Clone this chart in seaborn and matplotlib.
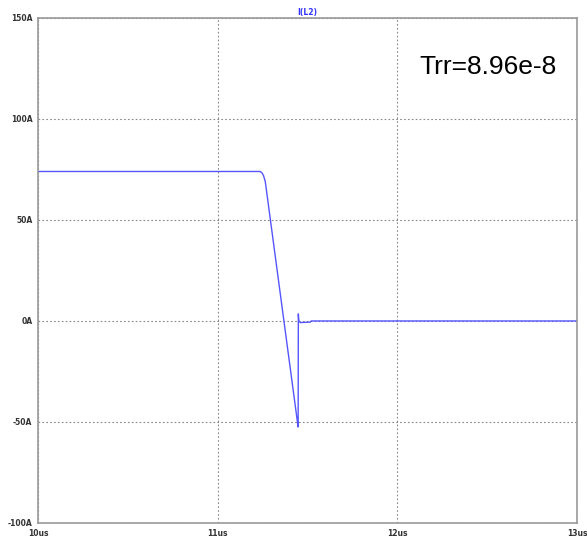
import numpy as np
import pandas as pd
import matplotlib
matplotlib.use("Agg")
import matplotlib.pyplot as plt
import seaborn as sns

# waveform of I(L2), time in us, current in A
time_us = [10.0, 11.235, 11.245, 11.255, 11.265, 11.444, 11.447, 11.448, 11.449,
           11.452, 11.46, 11.5, 11.515, 11.52, 13.0]
current_a = [74.0, 74.0, 73.5, 72.0, 69.0, -50.0, -52.5, -50.0, 3.5,
             0.0, -0.8, -0.6, -0.6, 0.0, 0.0]

xticks = [10, 11, 12, 13]
xlabels = ["10us", "11us", "12us", "13us"]
yticks = [-100, -50, 0, 50, 100, 150]
ylabels = ["-100A", "-50A", "0A", "50A", "100A", "150A"]

df = pd.DataFrame({"t": time_us, "i": current_a})

sns.set_style("white")
fig = plt.figure(figsize=(5.87, 5.39), dpi=100)
ax = fig.add_axes([0.0647, 0.0297, 0.9183, 0.937])

sns.lineplot(data=df, x="t", y="i", ax=ax, estimator=None, sort=False,
             color="#5555ff", linewidth=1.0)

ax.set_xlim(10, 13)
ax.set_ylim(-100, 150)
ax.set_xticks(xticks)
ax.set_xticklabels(xlabels)
ax.set_yticks(yticks)
ax.set_yticklabels(ylabels)
ax.set_xlabel("")
ax.set_ylabel("")
ax.tick_params(axis="both", length=3, width=0.8, color="#888888", labelsize=5.5,
               labelcolor="#333333", pad=1)
for lab in ax.get_xticklabels() + ax.get_yticklabels():
    lab.set_fontweight("bold")
for s in ax.spines.values():
    s.set_color("#999999")
    s.set_linewidth(1.2)

ax.grid(True, color="#888888", linestyle=(0, (1.5, 2)), linewidth=0.8)

ax.set_title("I(L2)", fontsize=5.5, color="#3333ff", fontweight="bold", pad=2)
ax.text(0.963, 0.902, "Trr=8.96e-8", transform=ax.transAxes, ha="right",
        va="center", fontsize=19, family="Liberation Sans", color="black")

fig.savefig("out.png", dpi=100)
